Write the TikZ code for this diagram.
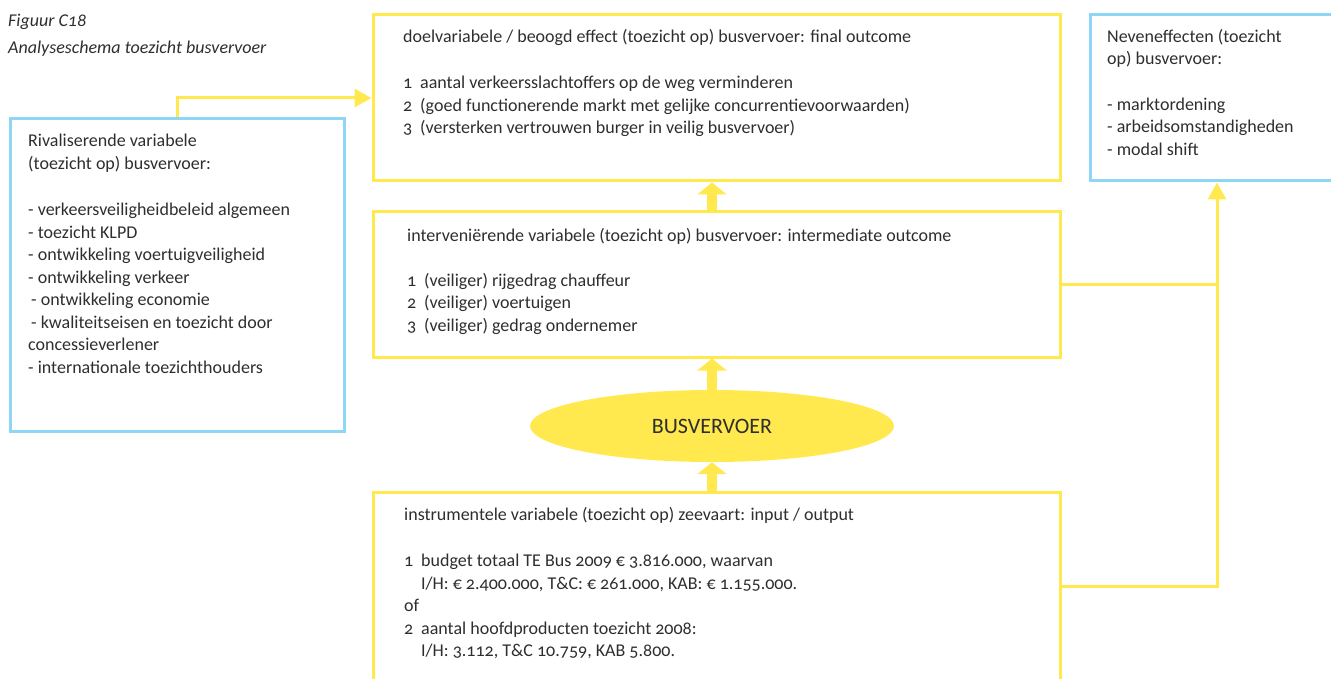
\documentclass[tikz,border=0pt]{standalone}
\usepackage{fontspec}
\setmainfont{Carlito}[Numbers=OldStyle]
\usetikzlibrary{arrows.meta,shapes.geometric}
\definecolor{ygel}{HTML}{FFE94F}
\definecolor{lblue}{HTML}{8ED6F5}
\definecolor{ink}{HTML}{2E2E2E}
\newcommand{\numitem}[1]{\makebox[17pt][l]{#1}}
\tikzset{
  ybox/.style={draw=ygel, line width=3pt, rectangle, inner sep=0pt},
  bbox/.style={draw=lblue, line width=3pt, rectangle, inner sep=0pt},
  boxtext/.style={anchor=north west, align=left, inner sep=0pt, text=ink,
    font=\fontsize{18}{22.5}\selectfont},
  bigarrow/.style={draw=ygel, line width=10pt, -{Triangle[width=29pt,length=12pt]}},
  thinarrow/.style={draw=ygel, line width=3pt, -{Triangle[width=18pt,length=17pt]}},
  thinline/.style={draw=ygel, line width=3pt},
}
\begin{document}
\begin{tikzpicture}[x=1pt,y=-1pt]
\useasboundingbox (0,0) rectangle (1331,679);
\clip (0,0) rectangle (1331,679);

% caption
\node[boxtext, font=\fontsize{18}{27}\selectfont\itshape] (title) at (8,14)
  {Figuur C18\\Analyseschema toezicht busvervoer};

% boxes
\node[ybox, minimum width=687pt, minimum height=166pt] (goal) at (716.5,98) {};
\node[ybox, minimum width=687pt, minimum height=145pt] (inter) at (716.5,284.5) {};
\node[ybox, minimum width=687pt, minimum height=218pt] (instr) at (716.5,601) {};
\node[bbox, minimum width=254pt, minimum height=166pt] (nev) at (1217,98) {};
\node[bbox, minimum width=334pt, minimum height=312pt] (rival) at (177,275) {};

\node[ellipse, fill=ygel, minimum width=364pt, minimum height=72pt, inner sep=0pt,
  text=ink, font=\fontsize{22}{24}\selectfont] (bus) at (712,426)
  {\raisebox{-4pt}{BUSVERVOER}};

% box texts
\node[boxtext] (goaltxt) at (403,29)
  {doelvariabele / beoogd effect (toezicht op) busvervoer: final outcome\\[24pt]
   \numitem{1}aantal verkeersslachtoffers op de weg verminderen\\
   \numitem{2}(goed functionerende markt met gelijke concurrentievoorwaarden)\\
   \numitem{3}(versterken vertrouwen burger in veilig busvervoer)};

\node[boxtext] (nevtxt) at (1107,29)
  {Neveneffecten (toezicht\\op) busvervoer:\\[23pt]
   - marktordening\\- arbeidsomstandigheden\\- modal shift};

\node[boxtext] (rivaltxt) at (28,134)
  {Rivaliserende variabele\\(toezicht op) busvervoer:\\[24pt]
   - verkeersveiligheidbeleid algemeen\\
   - toezicht KLPD\\
   - ontwikkeling voertuigveiligheid\\
   - ontwikkeling verkeer\\
   \hspace*{3pt}- ontwikkeling economie\\
   \hspace*{3pt}- kwaliteitseisen en toezicht door\\
   concessieverlener\\
   - internationale toezichthouders};

\node[boxtext] (intertxt) at (407,228)
  {interveniërende variabele (toezicht op) busvervoer: intermediate outcome\\[22.5pt]
   \numitem{1}(veiliger) rijgedrag chauffeur\\
   \numitem{2}(veiliger) voertuigen\\
   \numitem{3}(veiliger) gedrag ondernemer};

\node[boxtext] (instrtxt) at (404,507)
  {instrumentele variabele (toezicht op) zeevaart: input / output\\[24pt]
   \numitem{1}budget totaal TE Bus 2009 € 3.816.000, waarvan\\
   \hspace*{17pt}I/H: € 2.400.000, T\&C: € 261.000, KAB: € 1.155.000.\\
   of\\
   \numitem{2}aantal hoofdproducten toezicht 2008:\\
   \hspace*{17pt}I/H: 3.112, T\&C 10.759, KAB 5.800.};

% main chain
\draw[bigarrow] (instr.north -| bus.south) -- (bus.south);
\draw[bigarrow] (bus.north) -- (bus.north |- inter.south);
\draw[bigarrow] (inter.north -| bus.north) -- (bus.north |- goal.south);

% rival variables feed the goal
\draw[thinarrow] (rival.north) |- (goal.west);

% side effects
\draw[thinline] (inter.east) -- (inter.east -| nev.south);
\draw[thinarrow] ([yshift=15pt]instr.east) -| (nev.south);
\end{tikzpicture}
\end{document}
